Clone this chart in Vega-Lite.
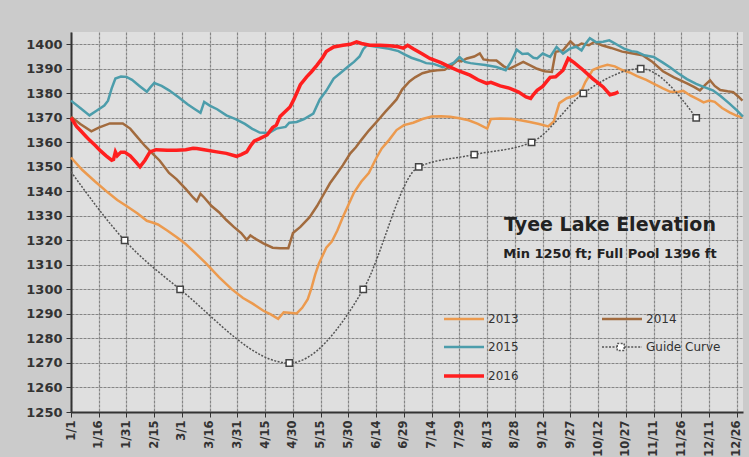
{
  "$schema": "https://vega.github.io/schema/vega-lite/v6.json",
  "width": 672,
  "height": 380,
  "autosize": "none",
  "padding": {"left": 71, "top": 32, "right": 6, "bottom": 45},
  "background": "#cbcbcb",
  "title": {
    "text": "Tyee Lake Elevation",
    "subtitle": "Min 1250 ft; Full Pool 1396 ft",
    "anchor": "middle",
    "frame": "group",
    "dx": 203,
    "dy": 233,
    "font": "DejaVu Sans",
    "fontSize": 19,
    "fontWeight": "bold",
    "color": "#222222",
    "subtitleFont": "DejaVu Sans",
    "subtitleFontSize": 13,
    "subtitleFontWeight": "bold",
    "subtitleColor": "#222222",
    "subtitlePadding": 13
  },
  "config": {
    "font": "DejaVu Sans",
    "view": {"fill": "#dfdfdf", "stroke": null},
    "axis": {
      "gridColor": "#858585",
      "gridDash": [3, 1],
      "gridWidth": 1.2,
      "domainColor": "#333333",
      "domainWidth": 2,
      "tickColor": "#333333",
      "tickSize": 5,
      "labelColor": "#333333",
      "labelFont": "DejaVu Sans",
      "labelFontWeight": "bold",
      "title": null
    }
  },
  "datasets": {
    "years": [
      {"series": "2013", "day": 0, "elev": 1353.8}, {"series": "2013", "day": 6, "elev": 1348.8}, {"series": "2013", "day": 13, "elev": 1344}, {"series": "2013", "day": 20, "elev": 1339.5}, {"series": "2013", "day": 25, "elev": 1336.5}, {"series": "2013", "day": 30, "elev": 1334}, {"series": "2013", "day": 36, "elev": 1331}, {"series": "2013", "day": 41, "elev": 1328}, {"series": "2013", "day": 44, "elev": 1327.3}, {"series": "2013", "day": 47, "elev": 1326.5}, {"series": "2013", "day": 52, "elev": 1324}, {"series": "2013", "day": 57, "elev": 1321.4}, {"series": "2013", "day": 62, "elev": 1318.5}, {"series": "2013", "day": 67, "elev": 1315}, {"series": "2013", "day": 73, "elev": 1310.6}, {"series": "2013", "day": 80, "elev": 1305}, {"series": "2013", "day": 87, "elev": 1300}, {"series": "2013", "day": 93, "elev": 1296.5}, {"series": "2013", "day": 98, "elev": 1294.3}, {"series": "2013", "day": 104, "elev": 1291.3}, {"series": "2013", "day": 108, "elev": 1289.8}, {"series": "2013", "day": 112, "elev": 1288}, {"series": "2013", "day": 115, "elev": 1290.7}, {"series": "2013", "day": 118, "elev": 1290.5}, {"series": "2013", "day": 122, "elev": 1290.2}, {"series": "2013", "day": 125, "elev": 1292.5}, {"series": "2013", "day": 128, "elev": 1296}, {"series": "2013", "day": 130, "elev": 1300.5}, {"series": "2013", "day": 132, "elev": 1306}, {"series": "2013", "day": 134, "elev": 1310.5}, {"series": "2013", "day": 138, "elev": 1317}, {"series": "2013", "day": 141, "elev": 1319.5}, {"series": "2013", "day": 144, "elev": 1324}, {"series": "2013", "day": 147, "elev": 1329.5}, {"series": "2013", "day": 150, "elev": 1334.5}, {"series": "2013", "day": 153, "elev": 1339.5}, {"series": "2013", "day": 157, "elev": 1344}, {"series": "2013", "day": 161, "elev": 1347.5}, {"series": "2013", "day": 165, "elev": 1353.5}, {"series": "2013", "day": 168, "elev": 1357.5}, {"series": "2013", "day": 172, "elev": 1361}, {"series": "2013", "day": 176, "elev": 1365}, {"series": "2013", "day": 180, "elev": 1367}, {"series": "2013", "day": 185, "elev": 1368}, {"series": "2013", "day": 190, "elev": 1369.5}, {"series": "2013", "day": 195, "elev": 1370.5}, {"series": "2013", "day": 200, "elev": 1370.6}, {"series": "2013", "day": 205, "elev": 1370.4}, {"series": "2013", "day": 210, "elev": 1369.8}, {"series": "2013", "day": 215, "elev": 1369}, {"series": "2013", "day": 220, "elev": 1367.5}, {"series": "2013", "day": 225, "elev": 1365.6}, {"series": "2013", "day": 227, "elev": 1369.5}, {"series": "2013", "day": 232, "elev": 1369.7}, {"series": "2013", "day": 238, "elev": 1369.6}, {"series": "2013", "day": 243, "elev": 1369}, {"series": "2013", "day": 248, "elev": 1368.3}, {"series": "2013", "day": 253, "elev": 1367.5}, {"series": "2013", "day": 258, "elev": 1366.5}, {"series": "2013", "day": 261, "elev": 1368.5}, {"series": "2013", "day": 264, "elev": 1376}, {"series": "2013", "day": 268, "elev": 1378}, {"series": "2013", "day": 272, "elev": 1379}, {"series": "2013", "day": 276, "elev": 1381}, {"series": "2013", "day": 278, "elev": 1384.5}, {"series": "2013", "day": 282, "elev": 1389.5}, {"series": "2013", "day": 286, "elev": 1390.8}, {"series": "2013", "day": 290, "elev": 1391.6}, {"series": "2013", "day": 294, "elev": 1391}, {"series": "2013", "day": 298, "elev": 1389.5}, {"series": "2013", "day": 302, "elev": 1388.5}, {"series": "2013", "day": 306, "elev": 1387}, {"series": "2013", "day": 311, "elev": 1385.5}, {"series": "2013", "day": 316, "elev": 1383.5}, {"series": "2013", "day": 320, "elev": 1382}, {"series": "2013", "day": 324, "elev": 1380.6}, {"series": "2013", "day": 328, "elev": 1380.5}, {"series": "2013", "day": 331, "elev": 1381}, {"series": "2013", "day": 335, "elev": 1379}, {"series": "2013", "day": 339, "elev": 1377.5}, {"series": "2013", "day": 342, "elev": 1376.3}, {"series": "2013", "day": 345, "elev": 1377}, {"series": "2013", "day": 348, "elev": 1376.5}, {"series": "2013", "day": 352, "elev": 1374}, {"series": "2013", "day": 356, "elev": 1372.2}, {"series": "2013", "day": 360, "elev": 1370.8}, {"series": "2013", "day": 363, "elev": 1370.2},
      {"series": "2014", "day": 0, "elev": 1370.4}, {"series": "2014", "day": 5, "elev": 1367.5}, {"series": "2014", "day": 11, "elev": 1364.5}, {"series": "2014", "day": 15, "elev": 1366}, {"series": "2014", "day": 21, "elev": 1367.7}, {"series": "2014", "day": 28, "elev": 1367.7}, {"series": "2014", "day": 32, "elev": 1365.6}, {"series": "2014", "day": 36, "elev": 1362}, {"series": "2014", "day": 40, "elev": 1358.5}, {"series": "2014", "day": 44, "elev": 1355.5}, {"series": "2014", "day": 48, "elev": 1352.5}, {"series": "2014", "day": 53, "elev": 1347.5}, {"series": "2014", "day": 57, "elev": 1345}, {"series": "2014", "day": 62, "elev": 1341}, {"series": "2014", "day": 66, "elev": 1337.5}, {"series": "2014", "day": 68, "elev": 1336}, {"series": "2014", "day": 70, "elev": 1339}, {"series": "2014", "day": 72, "elev": 1337.5}, {"series": "2014", "day": 76, "elev": 1334}, {"series": "2014", "day": 80, "elev": 1331.5}, {"series": "2014", "day": 84, "elev": 1328.3}, {"series": "2014", "day": 88, "elev": 1325.5}, {"series": "2014", "day": 92, "elev": 1323}, {"series": "2014", "day": 95, "elev": 1320.2}, {"series": "2014", "day": 97, "elev": 1322}, {"series": "2014", "day": 100, "elev": 1320.5}, {"series": "2014", "day": 104, "elev": 1318.8}, {"series": "2014", "day": 109, "elev": 1317}, {"series": "2014", "day": 113, "elev": 1316.8}, {"series": "2014", "day": 117.5, "elev": 1316.8}, {"series": "2014", "day": 120, "elev": 1323}, {"series": "2014", "day": 124, "elev": 1325.5}, {"series": "2014", "day": 129, "elev": 1329.5}, {"series": "2014", "day": 133, "elev": 1334}, {"series": "2014", "day": 136, "elev": 1338}, {"series": "2014", "day": 140, "elev": 1343.3}, {"series": "2014", "day": 144, "elev": 1347.5}, {"series": "2014", "day": 147, "elev": 1350.7}, {"series": "2014", "day": 151, "elev": 1355.5}, {"series": "2014", "day": 154, "elev": 1358}, {"series": "2014", "day": 157, "elev": 1361}, {"series": "2014", "day": 161, "elev": 1364.8}, {"series": "2014", "day": 166, "elev": 1369}, {"series": "2014", "day": 170, "elev": 1372.5}, {"series": "2014", "day": 173, "elev": 1375}, {"series": "2014", "day": 176, "elev": 1377.5}, {"series": "2014", "day": 179, "elev": 1381.5}, {"series": "2014", "day": 183, "elev": 1384.8}, {"series": "2014", "day": 186, "elev": 1386.5}, {"series": "2014", "day": 190, "elev": 1388.2}, {"series": "2014", "day": 194, "elev": 1389}, {"series": "2014", "day": 198, "elev": 1389.4}, {"series": "2014", "day": 202, "elev": 1389.6}, {"series": "2014", "day": 206, "elev": 1391.5}, {"series": "2014", "day": 209, "elev": 1393.5}, {"series": "2014", "day": 211, "elev": 1393}, {"series": "2014", "day": 214, "elev": 1394.2}, {"series": "2014", "day": 218, "elev": 1395}, {"series": "2014", "day": 221, "elev": 1396.3}, {"series": "2014", "day": 223, "elev": 1393.8}, {"series": "2014", "day": 226, "elev": 1393.5}, {"series": "2014", "day": 230, "elev": 1393.4}, {"series": "2014", "day": 234, "elev": 1391}, {"series": "2014", "day": 237, "elev": 1390}, {"series": "2014", "day": 241, "elev": 1391.5}, {"series": "2014", "day": 244.5, "elev": 1392.8}, {"series": "2014", "day": 248, "elev": 1391.5}, {"series": "2014", "day": 252, "elev": 1390}, {"series": "2014", "day": 256, "elev": 1389}, {"series": "2014", "day": 260, "elev": 1388.7}, {"series": "2014", "day": 262, "elev": 1396.9}, {"series": "2014", "day": 266, "elev": 1397.5}, {"series": "2014", "day": 270, "elev": 1401.2}, {"series": "2014", "day": 273, "elev": 1399}, {"series": "2014", "day": 276, "elev": 1400.3}, {"series": "2014", "day": 280, "elev": 1399.6}, {"series": "2014", "day": 283, "elev": 1401}, {"series": "2014", "day": 287, "elev": 1399.6}, {"series": "2014", "day": 292, "elev": 1398.5}, {"series": "2014", "day": 298, "elev": 1397}, {"series": "2014", "day": 303, "elev": 1396.3}, {"series": "2014", "day": 309, "elev": 1395.5}, {"series": "2014", "day": 314, "elev": 1393}, {"series": "2014", "day": 320, "elev": 1389}, {"series": "2014", "day": 326, "elev": 1386.5}, {"series": "2014", "day": 333, "elev": 1384}, {"series": "2014", "day": 337, "elev": 1382.5}, {"series": "2014", "day": 340, "elev": 1381.2}, {"series": "2014", "day": 343, "elev": 1383.5}, {"series": "2014", "day": 345.5, "elev": 1385.3}, {"series": "2014", "day": 348, "elev": 1383}, {"series": "2014", "day": 351, "elev": 1381.3}, {"series": "2014", "day": 355, "elev": 1380.8}, {"series": "2014", "day": 358, "elev": 1380.5}, {"series": "2014", "day": 361, "elev": 1378.5}, {"series": "2014", "day": 363, "elev": 1377},
      {"series": "2015", "day": 0, "elev": 1377}, {"series": "2015", "day": 5, "elev": 1374}, {"series": "2015", "day": 10, "elev": 1371}, {"series": "2015", "day": 14, "elev": 1373}, {"series": "2015", "day": 18, "elev": 1375}, {"series": "2015", "day": 20, "elev": 1377}, {"series": "2015", "day": 22, "elev": 1382}, {"series": "2015", "day": 24, "elev": 1386}, {"series": "2015", "day": 27, "elev": 1386.8}, {"series": "2015", "day": 30, "elev": 1386.7}, {"series": "2015", "day": 33, "elev": 1385.5}, {"series": "2015", "day": 37, "elev": 1383}, {"series": "2015", "day": 41, "elev": 1380.6}, {"series": "2015", "day": 43, "elev": 1382.5}, {"series": "2015", "day": 45, "elev": 1384.2}, {"series": "2015", "day": 49, "elev": 1383}, {"series": "2015", "day": 53, "elev": 1381.2}, {"series": "2015", "day": 58, "elev": 1378.5}, {"series": "2015", "day": 63, "elev": 1375.5}, {"series": "2015", "day": 67, "elev": 1373.5}, {"series": "2015", "day": 70, "elev": 1372}, {"series": "2015", "day": 72, "elev": 1376.5}, {"series": "2015", "day": 75, "elev": 1375}, {"series": "2015", "day": 79, "elev": 1373.5}, {"series": "2015", "day": 84, "elev": 1371}, {"series": "2015", "day": 89, "elev": 1369.5}, {"series": "2015", "day": 94, "elev": 1367.5}, {"series": "2015", "day": 98, "elev": 1365.5}, {"series": "2015", "day": 102, "elev": 1364}, {"series": "2015", "day": 107, "elev": 1363.8}, {"series": "2015", "day": 111, "elev": 1365.6}, {"series": "2015", "day": 116, "elev": 1366.3}, {"series": "2015", "day": 118, "elev": 1368}, {"series": "2015", "day": 122, "elev": 1368.3}, {"series": "2015", "day": 126, "elev": 1369.5}, {"series": "2015", "day": 131, "elev": 1371.7}, {"series": "2015", "day": 134.5, "elev": 1377.5}, {"series": "2015", "day": 138, "elev": 1381}, {"series": "2015", "day": 142, "elev": 1386}, {"series": "2015", "day": 146, "elev": 1388.5}, {"series": "2015", "day": 150, "elev": 1391}, {"series": "2015", "day": 153, "elev": 1392.8}, {"series": "2015", "day": 156, "elev": 1395}, {"series": "2015", "day": 158, "elev": 1398}, {"series": "2015", "day": 160, "elev": 1399.6}, {"series": "2015", "day": 165, "elev": 1399}, {"series": "2015", "day": 172, "elev": 1398.2}, {"series": "2015", "day": 177, "elev": 1397.2}, {"series": "2015", "day": 180, "elev": 1396}, {"series": "2015", "day": 184, "elev": 1394.5}, {"series": "2015", "day": 188, "elev": 1393.5}, {"series": "2015", "day": 192, "elev": 1392.3}, {"series": "2015", "day": 196, "elev": 1392}, {"series": "2015", "day": 201, "elev": 1390.7}, {"series": "2015", "day": 205, "elev": 1391.8}, {"series": "2015", "day": 207, "elev": 1392.5}, {"series": "2015", "day": 210, "elev": 1394.8}, {"series": "2015", "day": 213, "elev": 1392.8}, {"series": "2015", "day": 216, "elev": 1392.3}, {"series": "2015", "day": 219, "elev": 1392}, {"series": "2015", "day": 224, "elev": 1391.5}, {"series": "2015", "day": 230, "elev": 1390.7}, {"series": "2015", "day": 235, "elev": 1389.4}, {"series": "2015", "day": 238, "elev": 1393}, {"series": "2015", "day": 241, "elev": 1397.8}, {"series": "2015", "day": 244, "elev": 1396}, {"series": "2015", "day": 247, "elev": 1396.2}, {"series": "2015", "day": 250, "elev": 1394.5}, {"series": "2015", "day": 252, "elev": 1394.2}, {"series": "2015", "day": 255, "elev": 1396.2}, {"series": "2015", "day": 259, "elev": 1394.8}, {"series": "2015", "day": 262.5, "elev": 1398.9}, {"series": "2015", "day": 266, "elev": 1396.2}, {"series": "2015", "day": 269.7, "elev": 1398.2}, {"series": "2015", "day": 273, "elev": 1399}, {"series": "2015", "day": 276, "elev": 1397.5}, {"series": "2015", "day": 278, "elev": 1400}, {"series": "2015", "day": 280.5, "elev": 1402.5}, {"series": "2015", "day": 284, "elev": 1400.8}, {"series": "2015", "day": 287.7, "elev": 1401}, {"series": "2015", "day": 291, "elev": 1401.6}, {"series": "2015", "day": 293, "elev": 1400.8}, {"series": "2015", "day": 296, "elev": 1399.5}, {"series": "2015", "day": 299, "elev": 1398.2}, {"series": "2015", "day": 303, "elev": 1397.2}, {"series": "2015", "day": 306, "elev": 1396.9}, {"series": "2015", "day": 310, "elev": 1395.5}, {"series": "2015", "day": 315, "elev": 1394.8}, {"series": "2015", "day": 320, "elev": 1392.5}, {"series": "2015", "day": 324, "elev": 1390.5}, {"series": "2015", "day": 328, "elev": 1388.3}, {"series": "2015", "day": 333, "elev": 1385.8}, {"series": "2015", "day": 338, "elev": 1383.8}, {"series": "2015", "day": 342, "elev": 1382.6}, {"series": "2015", "day": 347, "elev": 1381.2}, {"series": "2015", "day": 351, "elev": 1379}, {"series": "2015", "day": 356, "elev": 1375.8}, {"series": "2015", "day": 360, "elev": 1373}, {"series": "2015", "day": 363.3, "elev": 1370.5},
      {"series": "2016", "day": 0, "elev": 1370}, {"series": "2016", "day": 3, "elev": 1366.5}, {"series": "2016", "day": 5, "elev": 1364.9}, {"series": "2016", "day": 8, "elev": 1362.5}, {"series": "2016", "day": 10, "elev": 1360.9}, {"series": "2016", "day": 13, "elev": 1358.8}, {"series": "2016", "day": 16, "elev": 1356.5}, {"series": "2016", "day": 19, "elev": 1354.5}, {"series": "2016", "day": 22, "elev": 1352.7}, {"series": "2016", "day": 23, "elev": 1353}, {"series": "2016", "day": 24, "elev": 1356.1}, {"series": "2016", "day": 25, "elev": 1354.5}, {"series": "2016", "day": 27, "elev": 1356}, {"series": "2016", "day": 29, "elev": 1356}, {"series": "2016", "day": 32, "elev": 1354.5}, {"series": "2016", "day": 35, "elev": 1352}, {"series": "2016", "day": 37.3, "elev": 1350}, {"series": "2016", "day": 40, "elev": 1352.7}, {"series": "2016", "day": 42.7, "elev": 1356.1}, {"series": "2016", "day": 46, "elev": 1357}, {"series": "2016", "day": 52, "elev": 1356.8}, {"series": "2016", "day": 57, "elev": 1356.8}, {"series": "2016", "day": 62, "elev": 1357}, {"series": "2016", "day": 66, "elev": 1357.6}, {"series": "2016", "day": 68, "elev": 1357.5}, {"series": "2016", "day": 72, "elev": 1357}, {"series": "2016", "day": 78.8, "elev": 1356.1}, {"series": "2016", "day": 84, "elev": 1355.5}, {"series": "2016", "day": 89.5, "elev": 1354.3}, {"series": "2016", "day": 92, "elev": 1355}, {"series": "2016", "day": 95, "elev": 1356.1}, {"series": "2016", "day": 97, "elev": 1358.5}, {"series": "2016", "day": 99, "elev": 1360.5}, {"series": "2016", "day": 102, "elev": 1361.5}, {"series": "2016", "day": 106, "elev": 1363}, {"series": "2016", "day": 109, "elev": 1366}, {"series": "2016", "day": 111, "elev": 1367}, {"series": "2016", "day": 113, "elev": 1370.5}, {"series": "2016", "day": 115, "elev": 1372}, {"series": "2016", "day": 118.4, "elev": 1374.4}, {"series": "2016", "day": 120.5, "elev": 1377.5}, {"series": "2016", "day": 122, "elev": 1380}, {"series": "2016", "day": 124, "elev": 1383.5}, {"series": "2016", "day": 127.4, "elev": 1386.7}, {"series": "2016", "day": 130, "elev": 1388.8}, {"series": "2016", "day": 133, "elev": 1391.5}, {"series": "2016", "day": 136, "elev": 1394.5}, {"series": "2016", "day": 138, "elev": 1397}, {"series": "2016", "day": 140, "elev": 1398}, {"series": "2016", "day": 142, "elev": 1398.9}, {"series": "2016", "day": 147, "elev": 1399.6}, {"series": "2016", "day": 151, "elev": 1400}, {"series": "2016", "day": 154.4, "elev": 1401}, {"series": "2016", "day": 157, "elev": 1400.3}, {"series": "2016", "day": 161.6, "elev": 1399.6}, {"series": "2016", "day": 167, "elev": 1399.6}, {"series": "2016", "day": 172.4, "elev": 1399.4}, {"series": "2016", "day": 177, "elev": 1399}, {"series": "2016", "day": 179.6, "elev": 1398.4}, {"series": "2016", "day": 182, "elev": 1399.6}, {"series": "2016", "day": 185, "elev": 1398.2}, {"series": "2016", "day": 190, "elev": 1396}, {"series": "2016", "day": 194, "elev": 1394.2}, {"series": "2016", "day": 200, "elev": 1392.5}, {"series": "2016", "day": 205, "elev": 1390.7}, {"series": "2016", "day": 210, "elev": 1389}, {"series": "2016", "day": 215.7, "elev": 1387.4}, {"series": "2016", "day": 220, "elev": 1385.5}, {"series": "2016", "day": 224.7, "elev": 1384}, {"series": "2016", "day": 227, "elev": 1384.5}, {"series": "2016", "day": 232, "elev": 1383}, {"series": "2016", "day": 237.3, "elev": 1382}, {"series": "2016", "day": 242, "elev": 1380.5}, {"series": "2016", "day": 246, "elev": 1378.5}, {"series": "2016", "day": 248.5, "elev": 1377.9}, {"series": "2016", "day": 250, "elev": 1379.5}, {"series": "2016", "day": 252, "elev": 1381.2}, {"series": "2016", "day": 255, "elev": 1382.8}, {"series": "2016", "day": 259, "elev": 1386.5}, {"series": "2016", "day": 262, "elev": 1386.7}, {"series": "2016", "day": 266, "elev": 1389.4}, {"series": "2016", "day": 268.8, "elev": 1394.2}, {"series": "2016", "day": 272, "elev": 1392.5}, {"series": "2016", "day": 277, "elev": 1389.4}, {"series": "2016", "day": 282, "elev": 1386}, {"series": "2016", "day": 287.7, "elev": 1382.6}, {"series": "2016", "day": 291.4, "elev": 1379.4}, {"series": "2016", "day": 294, "elev": 1379.9}, {"series": "2016", "day": 296, "elev": 1380.6}
    ],
    "guide": [
      {"series": "Guide Curve", "day": 0, "elev": 1348},
      {"series": "Guide Curve", "day": 29, "elev": 1320},
      {"series": "Guide Curve", "day": 59, "elev": 1300},
      {"series": "Guide Curve", "day": 118, "elev": 1270},
      {"series": "Guide Curve", "day": 158, "elev": 1300},
      {"series": "Guide Curve", "day": 188, "elev": 1350},
      {"series": "Guide Curve", "day": 218, "elev": 1355},
      {"series": "Guide Curve", "day": 249, "elev": 1360},
      {"series": "Guide Curve", "day": 277, "elev": 1380},
      {"series": "Guide Curve", "day": 308, "elev": 1390},
      {"series": "Guide Curve", "day": 338, "elev": 1370}
    ]
  },
  "encoding": {
    "x": {
      "field": "day",
      "type": "quantitative",
      "scale": {"domain": [0, 363.3], "nice": false, "zero": false},
      "axis": {
        "values": [0, 15, 30, 45, 60, 75, 90, 105, 120, 135, 150, 165, 180, 195, 210, 225, 240, 255, 270, 285, 300, 315, 330, 345, 360],
        "labelExpr": "timeFormat(datetime(2016, 0, 1 + datum.value), '%-m/%-d')",
        "labelAngle": 270,
        "labelFontSize": 11.5,
        "labelPadding": 3,
        "grid": true
      }
    },
    "y": {
      "field": "elev",
      "type": "quantitative",
      "scale": {"domain": [1250, 1405], "nice": false, "zero": false},
      "axis": {
        "values": [1250, 1260, 1270, 1280, 1290, 1300, 1310, 1320, 1330, 1340, 1350, 1360, 1370, 1380, 1390, 1400],
        "format": "d",
        "labelFontSize": 13,
        "labelPadding": 4,
        "grid": true
      }
    }
  },
  "layer": [
    {
      "data": {"name": "years"},
      "transform": [{"filter": "datum.series != '2016'"}],
      "mark": {"type": "line", "strokeWidth": 2.5},
      "encoding": {
        "color": {
          "field": "series",
          "type": "nominal",
          "scale": {
            "domain": ["2013", "2015", "2016", "2014", "Guide Curve"],
            "range": ["#ec9a4e", "#4c9dab", "#ff1f1f", "#a26b3e", "#555555"]
          },
          "legend": {
            "orient": "none",
            "legendX": 372,
            "legendY": 281,
            "columns": 2,
            "title": null,
            "padding": 0,
            "symbolType": "M-1,0H7",
            "symbolSize": 100,
            "symbolStrokeWidth": 3,
            "labelFontSize": 12,
            "labelColor": "#333333",
            "labelFont": "DejaVu Sans",
            "labelOffset": 33,
            "rowPadding": 15,
            "columnPadding": 78,
            "encode": {
              "symbols": {
                "update": {
                  "shape": {"signal": "datum.label == 'Guide Curve' ? 'M-1,0H2.04M3.44,0H7M2.04,-0.7H3.44V0.7H2.04Z' : 'M-1,0H7'"},
                  "strokeDash": {"signal": "datum.label == 'Guide Curve' ? [2, 1.5] : [1, 0]"},
                  "strokeWidth": {"signal": "datum.label == 'Guide Curve' ? 1.5 : (datum.label == '2016' ? 3.5 : 2.5)"},
                  "fill": {"signal": "datum.label == 'Guide Curve' ? 'white' : 'transparent'"}
                }
              }
            }
          }
        }
      }
    },
    {
      "data": {"name": "guide"},
      "mark": {"type": "line", "interpolate": "monotone", "strokeWidth": 1.5, "strokeDash": [2, 1.5]},
      "encoding": {"color": {"field": "series", "type": "nominal"}}
    },
    {
      "data": {"name": "guide"},
      "transform": [{"filter": "datum.day > 0"}],
      "mark": {"type": "point", "shape": "square", "size": 40, "filled": true, "fill": "white", "stroke": "#444444", "strokeWidth": 1.5, "opacity": 1}
    },
    {
      "data": {"name": "years"},
      "transform": [{"filter": "datum.series == '2016'"}],
      "mark": {"type": "line", "strokeWidth": 3.5},
      "encoding": {"color": {"field": "series", "type": "nominal"}}
    }
  ]
}
